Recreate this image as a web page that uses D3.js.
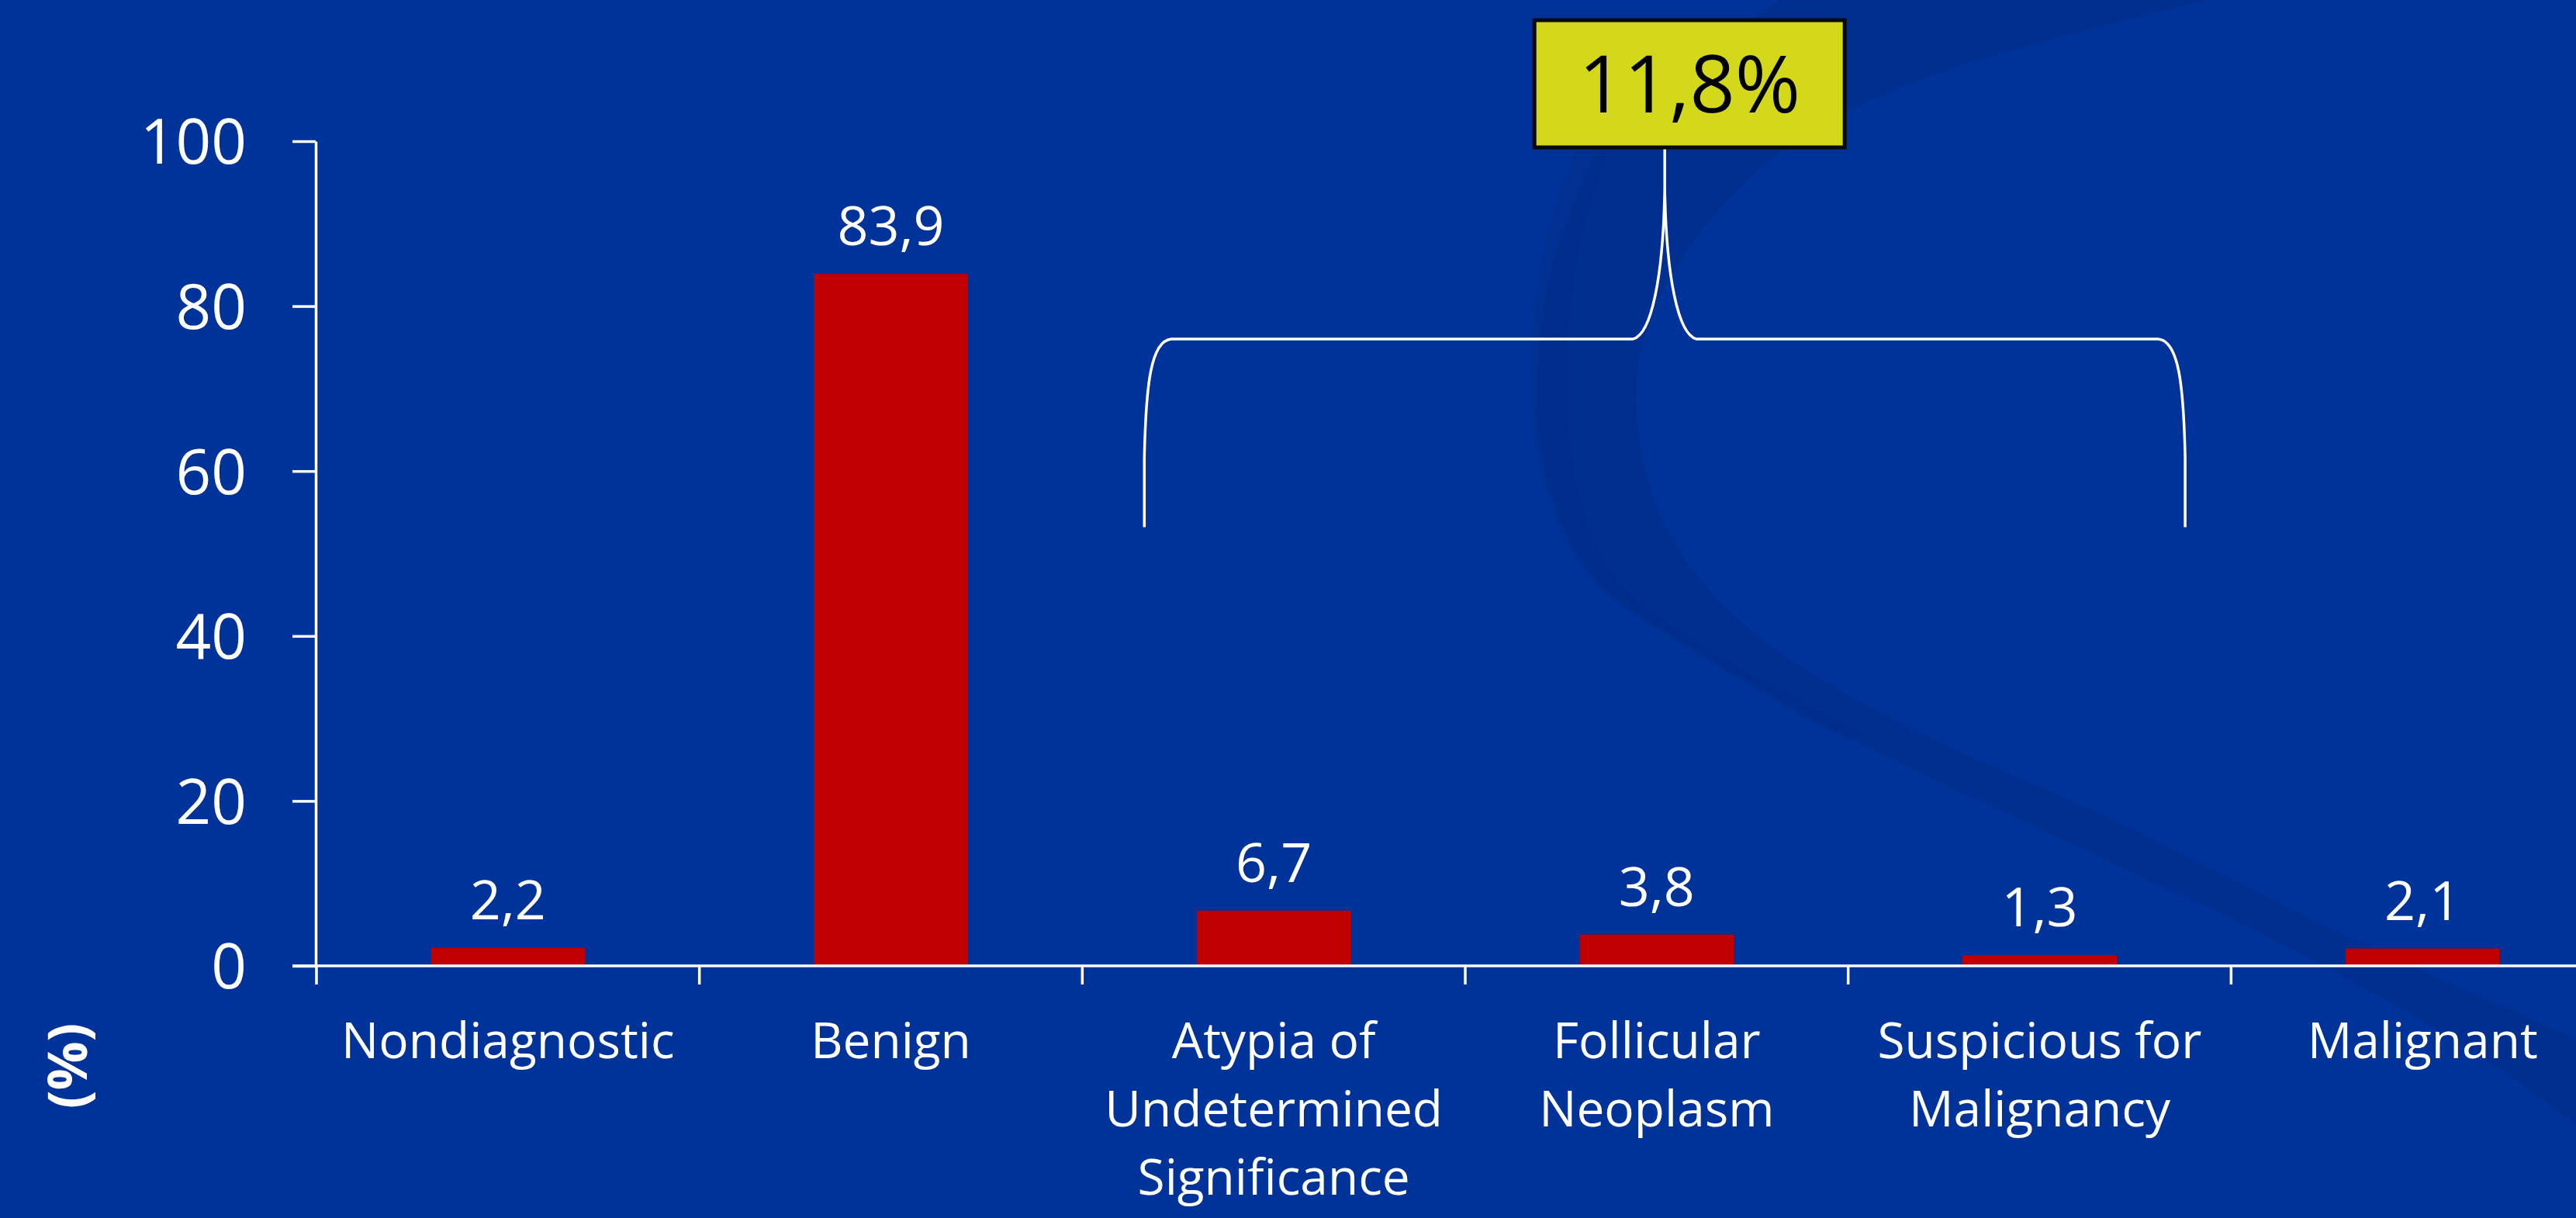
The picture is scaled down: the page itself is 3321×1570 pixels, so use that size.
<!DOCTYPE html>
<html>
<head>
<meta charset="utf-8">
<script src="https://cdn.jsdelivr.net/npm/d3@7"></script>
<style>
  html, body { margin: 0; padding: 0; background: #003399; overflow: hidden; }
  svg { display: block; }
</style>
</head>
<body>
<svg id="chart" width="3321" height="1570"></svg>
<script>
// ---------- data ----------
const categories = ["Nondiagnostic", "Benign", "Atypia of Undetermined Significance",
                    "Follicular Neoplasm", "Suspicious for Malignancy", "Malignant"];
const categoryLines = [["Nondiagnostic"], ["Benign"], ["Atypia of", "Undetermined", "Significance"],
                       ["Follicular", "Neoplasm"], ["Suspicious for", "Malignancy"], ["Malignant"]];
const values = [2.2, 83.9, 6.7, 3.8, 1.3, 2.1];
const valueLabels = ["2,2", "83,9", "6,7", "3,8", "1,3", "2,1"];
const yTicks = [0, 20, 40, 60, 80, 100];
const yLabel = "(%)";
const bracketLabel = "11,8%";
const bracketFirst = "Atypia of Undetermined Significance";
const bracketLast = "Suspicious for Malignancy";

// ---------- setup ----------
const W = 3321, H = 1570;
const FONT = "'Open Sans', 'Noto Sans', sans-serif";
const svg = d3.select("#chart");

svg.append("rect").attr("width", W).attr("height", H).attr("fill", "#003399");

// decorative swoosh in the background
const deco = svg.append("g");
const line = d3.line().curve(d3.curveCatmullRom.alpha(0.5));
const outer = [[2295,0],[2091,153],[2013,306],[1984,459],[1994,612],[2052,740],[2188,839],
               [2382,950],[2673,1089],[2964,1228],[3206,1367],[3321,1450]];
const inner = [[3321,1339],[3012,1200],[2721,1055],[2430,922],[2256,811],[2159,700],[2120,600],
               [2110,510],[2120,434],[2169,332],[2285,204],[2479,102],[2847,0]];
deco.append("path")
  .attr("d", line(outer) + "L" + line(inner).slice(1) + "Z")
  .attr("fill", "#002d8a").attr("opacity", 0.6);
const strip = [[2060,120],[1995,300],[1975,460],[1990,620],[2050,745],[2190,845],[2380,955]];
const strip2 = [[2400,945],[2200,835],[2075,735],[2030,610],[2020,460],[2040,300],[2090,150]];
deco.append("path")
  .attr("d", line(strip) + "L" + line(strip2).slice(1) + "Z")
  .attr("fill", "#002a80").attr("opacity", 0.3);

// ---------- scales ----------
const x = d3.scaleBand().domain(categories).range([408, 3370]).paddingInner(0).paddingOuter(0);
const y = d3.scaleLinear().domain([0, 100]).range([1245, 182]);
const bw = x.bandwidth();
const barW = bw * 0.403;

// ---------- bars ----------
svg.append("g").selectAll("rect").data(values).join("rect")
  .attr("x", (d, i) => x(categories[i]) + (bw - barW) / 2)
  .attr("y", d => y(d))
  .attr("width", barW)
  .attr("height", d => y(0) - y(d))
  .attr("fill", "#c00000");

// value labels
svg.append("g").selectAll("text").data(values).join("text")
  .attr("x", (d, i) => x(categories[i]) + bw / 2)
  .attr("y", d => y(d) - 37)
  .attr("text-anchor", "middle")
  .attr("fill", "#ffffff")
  .style("font-family", FONT).style("font-size", "70px")
  .text((d, i) => valueLabels[i]);

// ---------- y axis ----------
const yAxis = svg.append("g").attr("transform", "translate(407,0)")
  .call(d3.axisLeft(y).tickValues(yTicks).tickSize(30).tickSizeOuter(0).tickPadding(59));
yAxis.selectAll("path, line").attr("stroke", "#ffffff").attr("stroke-width", 3.5);
yAxis.selectAll("text").attr("fill", "#ffffff")
  .style("font-family", FONT).style("font-size", "80px").attr("dy", "0.36em");

// ---------- x axis ----------
const xg = svg.append("g");
xg.append("line").attr("x1", 377).attr("x2", W).attr("y1", y(0)).attr("y2", y(0))
  .attr("stroke", "#ffffff").attr("stroke-width", 3.5);
const boundaries = categories.map(c => x(c)).concat([x(categories[categories.length - 1]) + bw]);
xg.selectAll("line.tick").data(boundaries).join("line").attr("class", "tick")
  .attr("x1", d => d).attr("x2", d => d)
  .attr("y1", y(0)).attr("y2", y(0) + 24)
  .attr("stroke", "#ffffff").attr("stroke-width", 3.5);

const catText = xg.selectAll("text.cat").data(categories).join("text").attr("class", "cat")
  .attr("text-anchor", "middle")
  .attr("fill", "#ffffff")
  .style("font-family", FONT).style("font-size", "64px");
catText.each(function (c, i) {
  const t = d3.select(this);
  categoryLines[i].forEach((ln, k) => {
    t.append("tspan").attr("x", x(c) + bw / 2).attr("y", 1364 + k * 88).text(ln);
  });
});

// y label
svg.append("text")
  .attr("transform", "translate(112,1374) rotate(-90)")
  .attr("text-anchor", "middle")
  .attr("fill", "#ffffff")
  .style("font-family", FONT).style("font-size", "70px").style("font-weight", "bold")
  .text(yLabel);

// ---------- bracket annotation ----------
const bx0 = x(bracketFirst) + bw * 0.162;
const bx1 = x(bracketLast) + bw * 0.88;
const bxm = (bx0 + bx1) / 2;
const yBot = y(53.2), yTop = y(76), yCusp = y(94.2), yTip = y(99.4);
const p = d3.path();
p.moveTo(bx0, yBot);
p.lineTo(bx0, yBot - 90);
p.bezierCurveTo(bx0 + 2, yTop + 60, bx0 + 8, yTop + 2, bx0 + 35, yTop);
p.lineTo(bxm - 41, yTop);
p.bezierCurveTo(bxm - 17, yTop - 6, bxm - 2, yTop - 80, bxm, yCusp);
p.lineTo(bxm, yTip);
p.moveTo(bxm, yCusp);
p.bezierCurveTo(bxm + 2, yTop - 80, bxm + 17, yTop - 6, bxm + 41, yTop);
p.lineTo(bx1 - 35, yTop);
p.bezierCurveTo(bx1 - 8, yTop + 2, bx1 - 2, yTop + 60, bx1, yBot - 90);
p.lineTo(bx1, yBot);
svg.append("path").attr("d", p.toString())
  .attr("fill", "none").attr("stroke", "#ffffff").attr("stroke-width", 3.5);

// label box
const boxX = bxm - 168, boxW = 400, boxY = 26, boxH = 164;
svg.append("rect").attr("x", boxX).attr("y", boxY).attr("width", boxW).attr("height", boxH)
  .attr("fill", "#d3d81a").attr("stroke", "#0a0a0a").attr("stroke-width", 5);
svg.append("text")
  .attr("x", boxX + boxW / 2).attr("y", boxY + boxH / 2)
  .attr("dy", "0.36em")
  .attr("text-anchor", "middle")
  .attr("fill", "#000000")
  .style("font-family", FONT).style("font-size", "102px")
  .text(bracketLabel);
</script>
</body>
</html>
